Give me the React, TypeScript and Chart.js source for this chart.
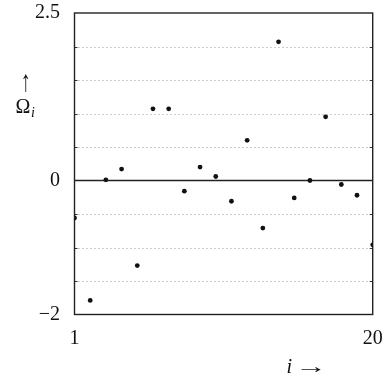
import React, { useEffect, useRef } from "react";
import { Chart, registerables } from "chart.js";

Chart.register(...registerables);

const iValues = [1, 2, 3, 4, 5, 6, 7, 8, 9, 10, 11, 12, 13, 14, 15, 16, 17, 18, 19, 20];
const omegaValues = [-0.56, -1.79, 0.01, 0.17, -1.27, 1.07, 1.07, -0.16, 0.2, 0.06, -0.31, 0.6, -0.71, 2.07, -0.26, 0.0, 0.95, -0.06, -0.22, -0.96];
const xTickValues = [1, 20];
const yTickValues = [-2, 0, 2.5];
const gridValues = [-1.5, -1, -0.5, 0.5, 1, 1.5, 2];

const FONT = "'Liberation Serif', 'DejaVu Serif', serif";

const framePlugin = {
  id: "framePlugin",
  beforeDatasetsDraw(chart: any) {
    const { ctx, chartArea } = chart;
    const ys = chart.scales.y;
    const { left, right, top, bottom } = chartArea;
    ctx.save();
    for (const g of gridValues) {
      const y = Math.round(ys.getPixelForValue(g)) + 0.5;
      ctx.strokeStyle = "#999";
      ctx.lineWidth = 1;
      ctx.setLineDash([1, 3]);
      ctx.beginPath();
      ctx.moveTo(left, y);
      ctx.lineTo(right, y);
      ctx.stroke();
      ctx.setLineDash([]);
      ctx.strokeStyle = "#333";
      ctx.beginPath();
      ctx.moveTo(left, y);
      ctx.lineTo(left + 3, y);
      ctx.moveTo(right - 3, y);
      ctx.lineTo(right, y);
      ctx.stroke();
    }
    ctx.setLineDash([]);
    const y0 = ys.getPixelForValue(0);
    ctx.strokeStyle = "#222";
    ctx.lineWidth = 1.3;
    ctx.beginPath();
    ctx.moveTo(left, y0);
    ctx.lineTo(right, y0);
    ctx.stroke();
    ctx.lineWidth = 1.4;
    ctx.strokeRect(left, top, right - left, bottom - top);
    ctx.restore();
  },
  afterDraw(chart: any) {
    const { ctx } = chart;
    ctx.save();
    ctx.fillStyle = "#111";
    ctx.textBaseline = "alphabetic";
    ctx.font = `20px ${FONT}`;
    // up arrow, stretched vertically
    ctx.save();
    ctx.translate(25.7, 91);
    ctx.scale(1, 1.5);
    ctx.textAlign = "center";
    ctx.fillText("\u2191", 0, 0);
    ctx.restore();
    ctx.textAlign = "left";
    ctx.fillText("\u03A9", 15.5, 113);
    ctx.font = `italic 14px ${FONT}`;
    ctx.fillText("i", 31, 117);
    ctx.font = `italic 20px ${FONT}`;
    ctx.fillText("i", 286.5, 373);
    ctx.font = `20px ${FONT}`;
    ctx.save();
    ctx.translate(295, 373);
    ctx.scale(1.6, 1);
    ctx.fillText("\u2192", 0, 0);
    ctx.restore();
    ctx.restore();
  },
};

const zeroPad = (s: any) => {
  s.paddingLeft = 0;
  s.paddingRight = 0;
  s.paddingTop = 0;
  s.paddingBottom = 0;
};

export default function App() {
  const ref = useRef<HTMLCanvasElement>(null);
  useEffect(() => {
    if (!ref.current) return;
    const chart = new Chart(ref.current, {
      type: "scatter",
      data: {
        datasets: [
          {
            data: iValues.map((x, k) => ({ x, y: omegaValues[k] })),
            pointRadius: 2.4,
            pointHoverRadius: 2.4,
            backgroundColor: "#111",
            borderWidth: 0,
          },
        ],
      },
      options: {
        animation: false,
        responsive: false,
        events: [],
        layout: { padding: { left: 0, top: 13, right: 15.3, bottom: 26.5 } },
        plugins: { legend: { display: false }, tooltip: { enabled: false } },
        scales: {
          x: {
            type: "linear",
            min: 1,
            max: 20,
            grid: { display: false, drawTicks: false },
            border: { display: false },
            afterBuildTicks: (s: any) => {
              s.ticks = xTickValues.map((v) => ({ value: v }));
            },
            afterFit: (s: any) => {
              s.height = 40;
              zeroPad(s);
            },
            ticks: {
              font: { family: FONT, size: 20 },
              color: "#111",
              padding: 12,
              maxRotation: 0,
              autoSkip: false,
              callback: (v: any) => String(v),
            },
          },
          y: {
            type: "linear",
            min: -2,
            max: 2.5,
            grid: { display: false, drawTicks: false },
            border: { display: false },
            afterBuildTicks: (s: any) => {
              s.ticks = yTickValues.map((v) => ({ value: v }));
            },
            afterFit: (s: any) => {
              s.width = 74.5;
              zeroPad(s);
            },
            ticks: {
              font: { family: FONT, size: 20 },
              color: "#111",
              padding: 14.5,
              autoSkip: false,
              callback: (v: any) => (Number(v) < 0 ? "\u2212" + String(Math.abs(Number(v))) : String(v)),
            },
          },
        },
      },
      plugins: [framePlugin],
    });
    return () => chart.destroy();
  }, []);
  return (
    <div style={{ position: "absolute", left: 0, top: 0, width: 388, height: 381 }}>
      <canvas ref={ref} width={388} height={381} style={{ width: 388, height: 381 }} />
    </div>
  );
}
